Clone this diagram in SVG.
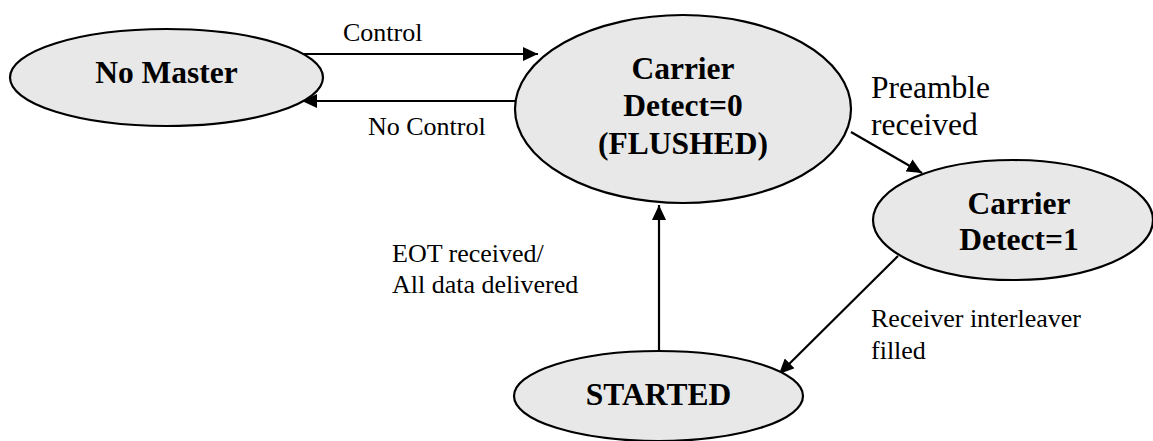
<svg xmlns="http://www.w3.org/2000/svg" width="1153" height="441" viewBox="0 0 1153 441">
<style>
.node{fill:#e8e8e8;stroke:#000;stroke-width:2.2}
.nt{font-weight:bold;font-size:31.5px;fill:#000;text-anchor:middle}
.lb{font-size:26px;fill:#000}
.lb2{font-size:31.5px;fill:#000}
.edge{stroke:#000;stroke-width:2.2;fill:none;marker-end:url(#ah)}
</style>
<defs>
<marker id="ah" viewBox="0 0 15 14" refX="15" refY="7" markerWidth="15" markerHeight="14" markerUnits="userSpaceOnUse" orient="auto">
<path d="M0,0 L15,7 L0,14 Z" fill="#000"/>
</marker>
</defs>
<rect width="1153" height="441" fill="#fff"/>
<g id="connectors">
<line class="edge" x1="300" y1="54" x2="538" y2="54"/>
<line class="edge" x1="516" y1="101" x2="302" y2="101"/>
<line class="edge" x1="851" y1="132" x2="922" y2="173"/>
<line class="edge" x1="898" y1="256" x2="779" y2="374"/>
<line class="edge" x1="659" y1="351" x2="659" y2="205"/>
</g>
<g font-family="Liberation Serif, Times New Roman, DejaVu Serif, serif">
<g id="node-nomaster">
<ellipse class="node" cx="166.5" cy="77.5" rx="156.5" ry="48.5"/>
<text class="nt" x="166.5" y="83">No Master</text>
</g>
<g id="node-cd0">
<ellipse class="node" cx="683" cy="109" rx="168" ry="94"/>
<text class="nt" x="683" y="79">Carrier</text>
<text class="nt" x="683" y="116">Detect=0</text>
<text class="nt" x="683" y="154">(FLUSHED)</text>
</g>
<g id="node-cd1">
<ellipse class="node" cx="1013" cy="220" rx="140" ry="60"/>
<text class="nt" x="1019" y="214">Carrier</text>
<text class="nt" x="1019" y="250">Detect=1</text>
</g>
<g id="node-started">
<ellipse class="node" cx="658.5" cy="396" rx="144.5" ry="45"/>
<text class="nt" x="658.5" y="405">STARTED</text>
</g>
<g id="labels">
<text class="lb" x="343" y="41">Control</text>
<text class="lb" x="368" y="135">No Control</text>
<text class="lb2" x="871" y="98">Preamble</text>
<text class="lb2" x="871" y="135">received</text>
<text class="lb" x="392" y="262">EOT received/</text>
<text class="lb" x="392" y="293">All data delivered</text>
<text class="lb" x="871" y="327">Receiver interleaver</text>
<text class="lb" x="871" y="359">filled</text>
</g>
</g>
</svg>
